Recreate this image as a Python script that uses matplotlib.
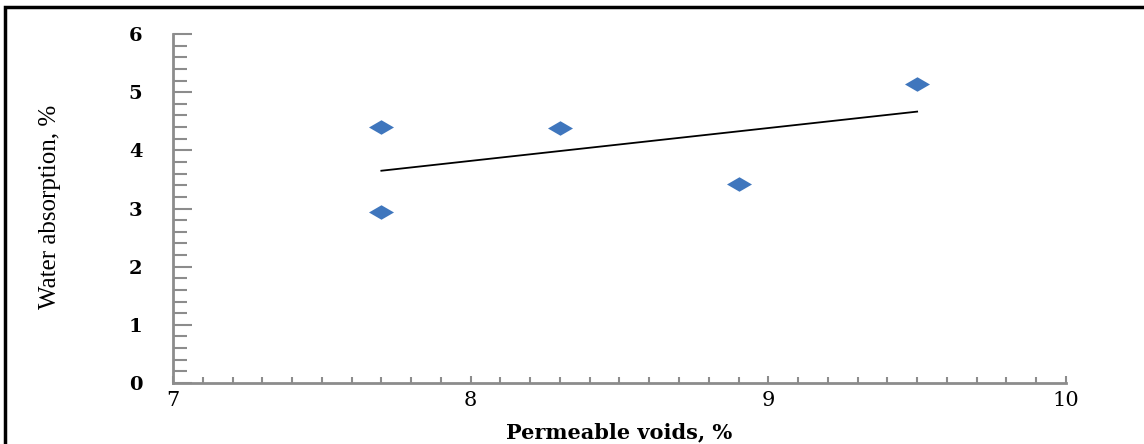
import numpy as np
import matplotlib
matplotlib.use('Agg')
import matplotlib.pyplot as plt
from matplotlib.path import Path
from matplotlib.patches import Rectangle
from matplotlib.ticker import MultipleLocator

# data
voids = [7.7, 7.7, 8.3, 8.9, 9.5]
absorption = [4.40, 2.94, 4.38, 3.42, 5.14]

x_ticks = [7, 8, 9, 10]
y_ticks = [0, 1, 2, 3, 4, 5, 6]

fig = plt.figure(figsize=(11.44, 4.44), dpi=100)
ax = fig.add_axes([0.1512, 0.1374, 0.7806, 0.786])

# flat diamond marker
diamond = Path([(-1, 0), (0, 0.58), (1, 0), (0, -0.58), (-1, 0)],
               [Path.MOVETO, Path.LINETO, Path.LINETO, Path.LINETO, Path.CLOSEPOLY])
ax.plot(voids, absorption, linestyle='none', marker=diamond, markersize=18,
        color='#3f76bd', markeredgewidth=0)

# linear trend line
k, b = np.polyfit(voids, absorption, 1)
xs = np.array([min(voids), max(voids)])
ax.plot(xs, k * xs + b, color='black', linewidth=1.3)

ax.set_xlim(7, 10)
ax.set_ylim(0, 6)
ax.set_xticks(x_ticks)
ax.set_yticks(y_ticks)
ax.xaxis.set_minor_locator(MultipleLocator(0.1))
ax.yaxis.set_minor_locator(MultipleLocator(0.2))

for s in ['top', 'right']:
    ax.spines[s].set_visible(False)
for s in ['left', 'bottom']:
    ax.spines[s].set_color('#8c8c8c')
    ax.spines[s].set_linewidth(2)

ax.tick_params(axis='both', which='both', direction='in', color='#8c8c8c', width=1.5)
ax.tick_params(axis='y', which='major', length=14, pad=22)
ax.tick_params(axis='y', which='minor', length=10)
ax.tick_params(axis='x', which='major', length=5, pad=6)
ax.tick_params(axis='x', which='minor', length=4)

for lab in ax.get_yticklabels():
    lab.set_fontfamily('DejaVu Serif')
    lab.set_fontweight('bold')
    lab.set_fontsize(14)
for lab in ax.get_xticklabels():
    lab.set_fontfamily('DejaVu Serif')
    lab.set_fontsize(15)

ax.set_xlabel('Permeable voids, %', fontfamily='DejaVu Serif', fontweight='bold',
              fontsize=15, labelpad=9)
ax.set_ylabel('Water absorption, %', fontfamily='Liberation Serif',
              fontsize=18)
ax.yaxis.set_label_coords(-0.125, 0.505)

# outer frame of the picture
fig.patches.append(Rectangle((0.0044, -0.05), 1.1, 1.034, transform=fig.transFigure,
                             fill=False, edgecolor='black', linewidth=2.5))

plt.savefig('out.png', dpi=100)
